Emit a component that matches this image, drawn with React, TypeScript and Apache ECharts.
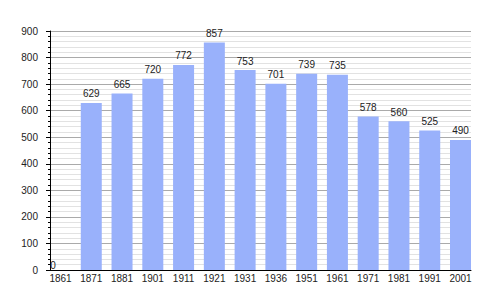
import React, { useEffect, useRef } from "react";
import * as echarts from "echarts";

const years = ["1861", "1871", "1881", "1901", "1911", "1921", "1931", "1936", "1951", "1961", "1971", "1981", "1991", "2001"];
const population = [0, 629, 665, 720, 772, 857, 753, 701, 739, 735, 578, 560, 525, 490];
const yMin = 0;
const yMax = 900;
const yStep = 100;

export default function App() {
  const ref = useRef<HTMLDivElement>(null);
  useEffect(() => {
    if (!ref.current) return;
    const chart = echarts.init(ref.current, undefined, { renderer: "svg" });
    const font = "Liberation Sans, Arial, sans-serif";
    chart.setOption({
      animation: false,
      backgroundColor: "#ffffff",
      grid: [
        { left: 50, right: 29, top: 31, bottom: 30 },
        { left: 60.5, right: 39.5, top: 31, bottom: 30 },
      ],
      xAxis: [
        {
          gridIndex: 0,
          type: "value",
          min: 0,
          max: 1,
          axisLine: { show: true, onZero: false, lineStyle: { color: "#000", width: 1 } },
          axisTick: { show: false },
          axisLabel: { show: false },
          splitLine: { show: false },
        },
        {
          gridIndex: 1,
          type: "category",
          data: years,
          boundaryGap: false,
          axisLine: { show: false },
          axisTick: { show: false },
          axisLabel: { color: "#222", fontSize: 10, fontFamily: font, margin: 3, interval: 0 },
          splitLine: { show: false },
        },
      ],
      yAxis: [
        {
          gridIndex: 0,
          type: "value",
          min: yMin,
          max: yMax,
          interval: yStep,
          axisLine: { show: true, lineStyle: { color: "#000", width: 1 } },
          axisTick: { show: true, inside: false, length: 4, lineStyle: { color: "#000" } },
          minorTick: { show: true, splitNumber: 5, length: 2, lineStyle: { color: "#000" } },
          axisLabel: { color: "#222", fontSize: 10, fontFamily: font, margin: 12 },
          splitLine: { show: true, lineStyle: { color: "#aaaaaa", width: 1 } },
          minorSplitLine: { show: true, lineStyle: { color: "#e2e2e2", width: 1 } },
        },
        {
          gridIndex: 1,
          type: "value",
          min: yMin,
          max: yMax,
          show: false,
          splitLine: { show: false },
        },
      ],
      series: [
        {
          type: "bar",
          xAxisIndex: 1,
          yAxisIndex: 1,
          barWidth: 21,
          clip: false,
          itemStyle: { color: "#99b1fb" },
          label: {
            show: true,
            position: "top",
            distance: 4,
            color: "#222",
            fontSize: 10,
            fontFamily: font,
          },
          data: population.map((v) =>
            v === 0 ? { value: v, label: { offset: [-7.5, 4] } } : v
          ),
        },
      ],
    });
    return () => chart.dispose();
  }, []);
  return <div ref={ref} style={{ width: 500, height: 300, position: "absolute", left: 0, top: 0 }} />;
}
